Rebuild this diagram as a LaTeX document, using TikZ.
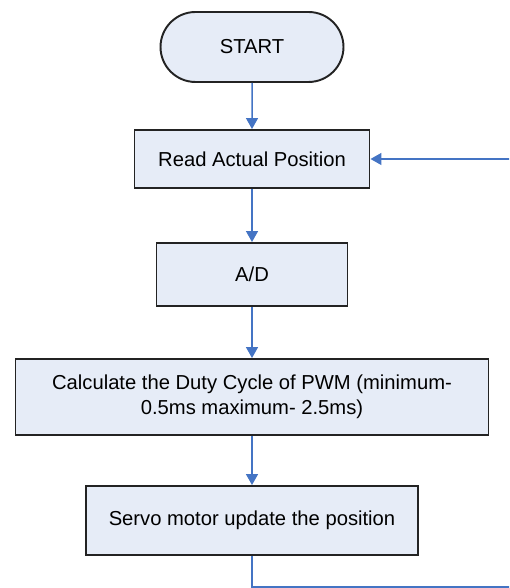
\documentclass[tikz,border=0pt]{standalone}
\usepackage{fontspec}
\setmainfont{Liberation Sans}
\usepackage{xcolor}
\usetikzlibrary{arrows.meta,calc,positioning,shapes.misc}
\definecolor{flowfill}{RGB}{230,236,247}
\definecolor{flowblue}{RGB}{68,116,196}
\definecolor{flowedge}{RGB}{35,35,35}

\begin{document}
\begin{tikzpicture}[
    process/.style={draw=flowedge, fill=flowfill, line width=1.1pt, align=center, font=\fontsize{11.5}{14}\selectfont, inner sep=2pt},
    terminal/.style={process, rounded rectangle, minimum width=3.8cm, minimum height=1.4cm},
    arrow/.style={-{Triangle[length=0.22cm, width=0.24cm]}, line width=0.85pt, flowblue}
]

% Frame of the picture
\clip (0,0) rectangle (10.18,11.76);

% Start
\node[terminal] (start) at (5.04,10.82) {START};

% Steps
\node[process, minimum width=4.7cm, minimum height=1.16cm] (read) at (5.04,8.58) {Read Actual Position};
\node[process, minimum width=3.82cm, minimum height=1.26cm] (adc) at (5.04,6.27) {A/D};
\node[process, minimum width=9.46cm, minimum height=1.52cm] (duty) at (5.04,3.82) {
    Calculate the Duty Cycle of PWM (minimum-\\
    0.5ms maximum- 2.5ms)
};
\node[process, minimum width=6.64cm, minimum height=1.38cm] (servo) at (5.04,1.35) {Servo motor update the position};

% Arrows down the chain
\draw[arrow] (start) -- (read);
\draw[arrow] (read) -- (adc);
\draw[arrow] (adc) -- (duty);
\draw[arrow] (duty) -- (servo);

% Loop back to the reading step
\coordinate (loopbottom) at (10.6,0.02);
\coordinate (looptop) at (10.6,8.58);
\draw[arrow] (servo.south) |- (loopbottom) -- (looptop) -- (read.east);

\end{tikzpicture}
\end{document}
